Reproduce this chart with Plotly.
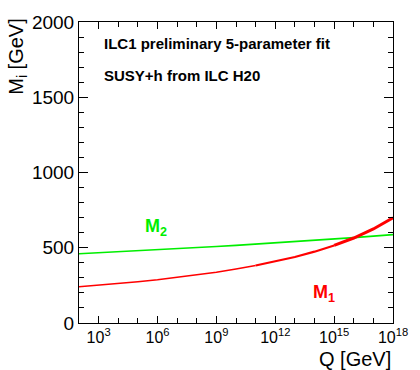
import plotly.graph_objects as go

# log10(Q / GeV)
logq = [2, 3, 4, 5, 6, 7, 8, 9, 10, 11, 12, 13, 14, 15, 16, 17, 18]
m1 = [241.0, 251.3, 262.5, 274.8, 288.2, 303.1, 319.5, 337.9, 358.4, 381.7,
      408.2, 438.6, 473.9, 515.4, 564.8, 624.8, 699.0]
m2 = [460.0, 466.3, 472.8, 479.5, 486.3, 493.4, 500.6, 508.1, 515.8, 523.8,
      531.9, 540.4, 549.1, 558.1, 567.4, 577.1, 587.0]
q = [10 ** v for v in logq]

xlabel_exps = [3, 6, 9, 12, 15, 18]
ytick_vals = [0, 500, 1000, 1500, 2000]

FONT = "Liberation Sans, Arial, Helvetica, sans-serif"

fig = go.Figure()
fig.add_trace(go.Scatter(x=q, y=m2, mode="lines",
                         line=dict(color="#00ee00", width=1.6), hoverinfo="skip"))
# red curve gets thicker at high Q (band of fits)
fig.add_trace(go.Scatter(x=q[:10], y=m1[:10], mode="lines",
                         line=dict(color="#ff0000", width=1.5), hoverinfo="skip"))
fig.add_trace(go.Scatter(x=q[9:14], y=m1[9:14], mode="lines",
                         line=dict(color="#ff0000", width=2.2), hoverinfo="skip"))
fig.add_trace(go.Scatter(x=q[13:], y=m1[13:], mode="lines",
                         line=dict(color="#ff0000", width=3), hoverinfo="skip"))

fig.update_layout(
    width=420, height=370,
    margin=dict(l=79, r=17, t=13, b=47),
    paper_bgcolor="white", plot_bgcolor="white",
    showlegend=False,
    font=dict(family=FONT, color="black", size=17),
    xaxis=dict(
        type="log", range=[2, 18],
        tickvals=[10 ** e for e in xlabel_exps],
        ticktext=[f"10<sup>{e}</sup>" for e in xlabel_exps],
        ticks="inside", ticklen=7, tickcolor="black", tickwidth=1,
        minor=dict(dtick=1, ticks="inside", ticklen=5, tickcolor="black"),
        showline=True, linecolor="black", linewidth=1, mirror="ticks",
        showgrid=False, zeroline=False,
        tickfont=dict(size=16),
    ),
    yaxis=dict(
        range=[0, 2000],
        tickvals=ytick_vals,
        ticks="inside", ticklen=9, tickcolor="black", tickwidth=1,
        minor=dict(dtick=100, ticks="inside", ticklen=5, tickcolor="black"),
        showline=True, linecolor="black", linewidth=1, mirror="ticks",
        showgrid=False, zeroline=False,
        tickfont=dict(size=19),
    ),
)

ann = [
    dict(text="<b>ILC1 preliminary 5-parameter fit</b>", x=0.073, y=0.929,
         xanchor="left", yanchor="middle", font=dict(size=15)),
    dict(text="<b>SUSY+h from ILC H20</b>", x=0.073, y=0.823,
         xanchor="left", yanchor="middle", font=dict(size=15)),
    dict(text="<b>M<sub>2</sub></b>", x=0.204, y=0.317,
         xanchor="left", yanchor="middle", font=dict(size=18, color="#00ee00")),
    dict(text="<b>M<sub>1</sub></b>", x=0.738, y=0.098,
         xanchor="left", yanchor="middle", font=dict(size=18, color="#ff0000")),
    dict(text="Q [GeV]", x=1.0, y=-0.118, xanchor="right", yanchor="middle",
         font=dict(size=20)),
    dict(text="M<sub>i</sub> [GeV]", x=-0.197, y=0.885, textangle=-90,
         xanchor="center", yanchor="middle", font=dict(size=20)),
]
for a in ann:
    fig.add_annotation(xref="paper", yref="paper", showarrow=False, **a)

fig.write_html("out.html")
